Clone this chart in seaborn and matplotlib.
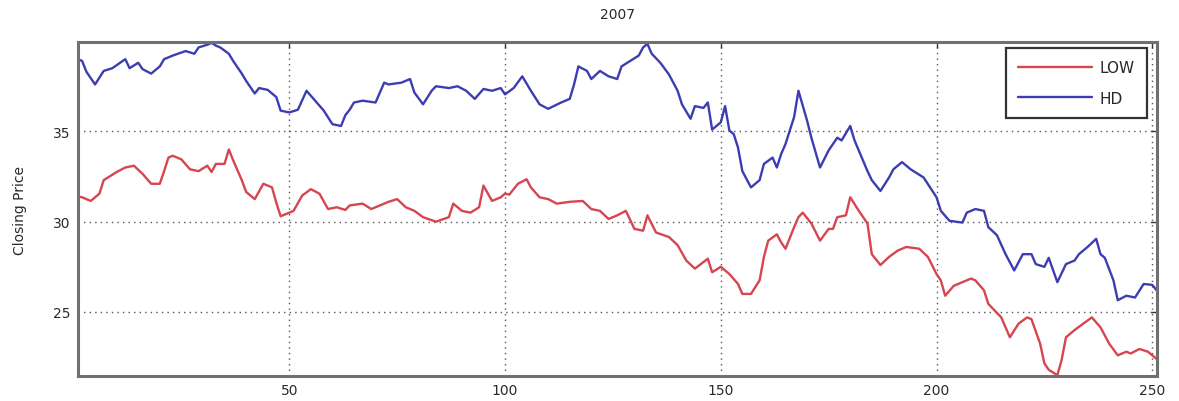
import matplotlib
matplotlib.use("Agg")
import matplotlib.pyplot as plt
import seaborn as sns
import pandas as pd

# Daily closing prices over the 2007 trading year (trading-day index, price in $)
hd_day = [1, 2, 3, 5, 7, 9, 12, 13, 15, 16, 18, 20, 21, 23, 26, 28, 29, 31, 32, 33,
          34, 36, 37, 39, 40, 42, 43, 45, 47, 48, 50, 52, 54, 56, 58, 60, 62, 63, 64, 65,
          67, 70, 72, 73, 76, 78, 79, 81, 83, 84, 87, 89, 91, 93, 95, 97, 99, 100, 102, 104,
          106, 108, 110, 113, 115, 116, 117, 119, 120, 122, 124, 126, 127, 129, 131, 132, 133, 134, 136, 138,
          140, 141, 143, 144, 146, 147, 148, 150, 151, 152, 153, 154, 155, 157, 159, 160, 162, 163, 164, 165,
          167, 168, 170, 171, 173, 175, 177, 178, 180, 181, 184, 185, 187, 189, 190, 192, 194, 197, 200, 201,
          203, 206, 207, 209, 211, 212, 214, 216, 218, 220, 222, 223, 225, 226, 228, 230, 232, 233, 235, 237,
          238, 239, 241, 242, 244, 246, 248, 250, 251]
hd_close = [39.0, 38.9, 38.3, 37.6, 38.35, 38.5, 39.0, 38.5, 38.8, 38.45, 38.2, 38.6, 39.0, 39.2, 39.45, 39.3, 39.65, 39.8, 39.9, 39.75,
            39.65, 39.3, 38.9, 38.2, 37.8, 37.1, 37.4, 37.3, 36.9, 36.15, 36.05, 36.2, 37.25, 36.7, 36.15, 35.4, 35.3, 35.9, 36.2, 36.6,
            36.7, 36.6, 37.7, 37.6, 37.7, 37.9, 37.15, 36.5, 37.25, 37.5, 37.4, 37.5, 37.25, 36.8, 37.35, 37.25, 37.4, 37.05, 37.4, 38.05,
            37.25, 36.5, 36.25, 36.6, 36.8, 37.6, 38.6, 38.35, 37.9, 38.35, 38.05, 37.9, 38.6, 38.9, 39.2, 39.65, 39.85, 39.3, 38.8, 38.15,
            37.25, 36.5, 35.7, 36.4, 36.3, 36.6, 35.1, 35.5, 36.4, 35.05, 34.85, 34.1, 32.8, 31.9, 32.3, 33.2, 33.55, 33.0, 33.75, 34.3,
            35.8, 37.25, 35.6, 34.65, 33.0, 33.95, 34.65, 34.5, 35.3, 34.5, 32.8, 32.3, 31.7, 32.45, 32.9, 33.3, 32.9, 32.45, 31.35, 30.6,
            30.05, 29.95, 30.5, 30.7, 30.6, 29.7, 29.25, 28.2, 27.3, 28.2, 28.2, 27.65, 27.5, 28.0, 26.65, 27.65, 27.85, 28.2, 28.6, 29.05,
            28.2, 28.0, 26.75, 25.65, 25.9, 25.8, 26.55, 26.5, 26.2]

low_day = [1, 2, 4, 6, 7, 10, 12, 14, 16, 18, 20, 21, 22, 23, 25, 27, 29, 31, 32, 33,
           35, 36, 37, 39, 40, 42, 44, 46, 47, 48, 49, 51, 53, 55, 57, 59, 61, 63, 64, 67,
           69, 71, 73, 75, 77, 79, 81, 84, 87, 88, 90, 92, 94, 95, 97, 99, 100, 101, 103, 105,
           106, 108, 110, 112, 115, 118, 120, 122, 124, 126, 128, 130, 132, 133, 135, 138, 140, 142, 144, 147,
           148, 150, 151, 152, 154, 155, 157, 159, 160, 161, 163, 164, 165, 167, 168, 169, 171, 173, 175, 176,
           177, 179, 180, 182, 184, 185, 187, 189, 191, 193, 196, 198, 200, 201, 202, 204, 206, 208, 209, 211,
           212, 215, 217, 219, 221, 222, 224, 225, 226, 228, 229, 230, 232, 234, 236, 238, 240, 242, 244, 245,
           247, 249, 251]
low_close = [31.4, 31.35, 31.15, 31.55, 32.3, 32.75, 33.0, 33.1, 32.65, 32.1, 32.1, 32.8, 33.55, 33.65, 33.45, 32.9, 32.8, 33.1, 32.75, 33.2,
             33.2, 34.0, 33.4, 32.3, 31.65, 31.25, 32.1, 31.9, 31.05, 30.3, 30.4, 30.6, 31.45, 31.8, 31.55, 30.7, 30.8, 30.65, 30.9, 31.0,
             30.7, 30.9, 31.1, 31.25, 30.8, 30.6, 30.25, 30.0, 30.25, 31.0, 30.6, 30.5, 30.8, 32.0, 31.15, 31.35, 31.55, 31.5, 32.1, 32.35,
             31.9, 31.35, 31.25, 31.0, 31.1, 31.15, 30.7, 30.6, 30.15, 30.35, 30.6, 29.6, 29.5, 30.35, 29.4, 29.15, 28.7, 27.85, 27.4, 27.95,
             27.2, 27.5, 27.3, 27.1, 26.55, 26.0, 26.0, 26.75, 28.05, 28.95, 29.3, 28.85, 28.5, 29.7, 30.25, 30.5, 29.9, 28.95, 29.6, 29.6,
             30.25, 30.35, 31.35, 30.6, 29.9, 28.2, 27.6, 28.05, 28.4, 28.6, 28.5, 28.05, 27.1, 26.75, 25.9, 26.45, 26.65, 26.85, 26.75, 26.2,
             25.45, 24.7, 23.6, 24.35, 24.7, 24.6, 23.25, 22.15, 21.8, 21.5, 22.35, 23.6, 24.0, 24.35, 24.7, 24.15, 23.25, 22.6, 22.8, 22.7,
             22.95, 22.8, 22.4]

series_names = ["LOW", "HD"]
series_colors = ["#d64550", "#3d3db2"]
title_text = "2007"
ylabel_text = "Closing Price"
x_ticks = [50, 100, 150, 200, 250]
y_ticks = [25, 30, 35]

frame = pd.concat([
    pd.DataFrame({"Day": low_day, "Close": low_close, "Ticker": series_names[0]}),
    pd.DataFrame({"Day": hd_day, "Close": hd_close, "Ticker": series_names[1]}),
], ignore_index=True)

sns.set_style("white")
plt.rcParams["font.family"] = ["DejaVu Sans"]

fig = plt.figure(figsize=(11.79, 4.02), dpi=100)
ax = fig.add_axes([0.066, 0.062, 0.915, 0.831])

sns.lineplot(data=frame, x="Day", y="Close", hue="Ticker",
             hue_order=series_names, palette=series_colors,
             linewidth=1.7, estimator=None, sort=True, ax=ax)

ax.set_xlim(1, 251)
ax.set_ylim(21.45, 39.95)
ax.set_xticks(x_ticks)
ax.set_yticks(y_ticks)
ax.grid(True, linestyle=(0, (1, 3)), color="#555555", linewidth=1.0)
ax.tick_params(direction="in", length=4, width=1, colors="#333333",
               labelsize=10, top=True, right=True, pad=5)
for label in ax.get_xticklabels() + ax.get_yticklabels():
    label.set_color("#2a2a2a")
for spine in ax.spines.values():
    spine.set_color("#707070")
    spine.set_linewidth(2.2)

ax.set_xlabel("")
ax.set_ylabel(ylabel_text, fontsize=10, color="#2a2a2a", labelpad=19)
ax.set_title(title_text, fontsize=10, color="#2a2a2a", pad=17)

leg = ax.legend(loc="upper right", frameon=True, fancybox=False,
                fontsize=11, handlelength=4.8, borderaxespad=0.3,
                handletextpad=0.5, borderpad=0.8, labelspacing=1.0,
                bbox_to_anchor=(0.995, 0.995))
leg.get_frame().set_edgecolor("#333333")
leg.get_frame().set_linewidth(1.6)
leg.get_frame().set_alpha(1.0)

fig.savefig("out.png", dpi=100)
